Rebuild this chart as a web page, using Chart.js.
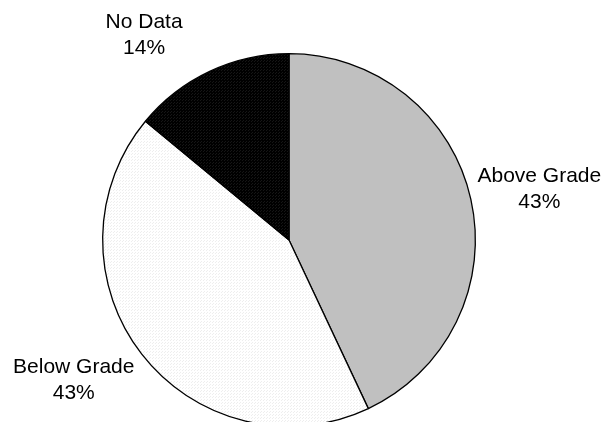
<!DOCTYPE html>
<html>
<head>
<meta charset="utf-8">
<script src="https://cdn.jsdelivr.net/npm/chart.js@4/dist/chart.umd.min.js"></script>
<style>
  html, body { margin: 0; padding: 0; background: #ffffff; overflow: hidden; }
  #wrap { width: 604px; height: 422px; overflow: hidden; position: relative; }
  canvas { display: block; }
</style>
</head>
<body>
<div id="wrap"><canvas id="chart" width="604" height="450"></canvas></div>
<script>
// Grade level status breakdown
const categories = ['Above Grade', 'Below Grade', 'No Data'];
const percentValues = [43, 43, 14];

// Small dotted fill tiles for the slices
function dotPattern(base, dot) {
  const c = document.createElement('canvas');
  c.width = 3; c.height = 3;
  const g = c.getContext('2d');
  g.fillStyle = base;
  g.fillRect(0, 0, 3, 3);
  g.fillStyle = dot;
  g.fillRect(0, 0, 1, 1);
  g.fillRect(2, 1, 1, 1);
  return document.createElement('canvas').getContext('2d').createPattern(c, 'repeat');
}

const fills = [
  '#c0c0c0',
  dotPattern('#ffffff', '#eeeeee'),
  dotPattern('#000000', '#161616')
];

// Draws category name and percentage outside each slice,
// starting from the slice's mid angle and nudged clear of the rim
const outsideLabels = {
  id: 'outsideLabels',
  afterDatasetsDraw(chart, args, opts) {
    const ctx = chart.ctx;
    const meta = chart.getDatasetMeta(0);
    const data = chart.data.datasets[0].data;
    const total = data.reduce((a, b) => a + b, 0);
    ctx.save();
    ctx.font = '21px "Liberation Sans", Arial, sans-serif';
    ctx.fillStyle = '#000000';
    ctx.textAlign = 'center';
    ctx.textBaseline = 'middle';
    meta.data.forEach((arc, i) => {
      const p = arc.getProps(['x', 'y', 'startAngle', 'endAngle', 'outerRadius'], true);
      const mid = (p.startAngle + p.endAngle) / 2;
      const r = p.outerRadius * 1.36;
      const nudge = opts.nudge[i] || [0, 0];
      const lx = p.x + Math.cos(mid) * r + nudge[0];
      const ly = p.y + Math.sin(mid) * r + nudge[1];
      const pct = Math.round(data[i] / total * 100) + '%';
      ctx.fillText(chart.data.labels[i], lx, ly - 13);
      ctx.fillText(pct, lx, ly + 13);
    });
    ctx.restore();
  }
};

new Chart(document.getElementById('chart'), {
  type: 'pie',
  data: {
    labels: categories,
    datasets: [{
      data: percentValues,
      backgroundColor: fills,
      borderColor: '#000000',
      borderWidth: 1.3,
      borderAlign: 'center'
    }]
  },
  options: {
    responsive: false,
    animation: false,
    layout: { padding: { top: 53, bottom: 23, left: 102, right: 128 } },
    plugins: {
      legend: { display: false },
      tooltip: { enabled: false },
      title: { display: false },
      outsideLabels: { nudge: [[3, 4], [-15, -15], [-37, 25]] }
    }
  },
  plugins: [outsideLabels]
});
</script>
</body>
</html>
